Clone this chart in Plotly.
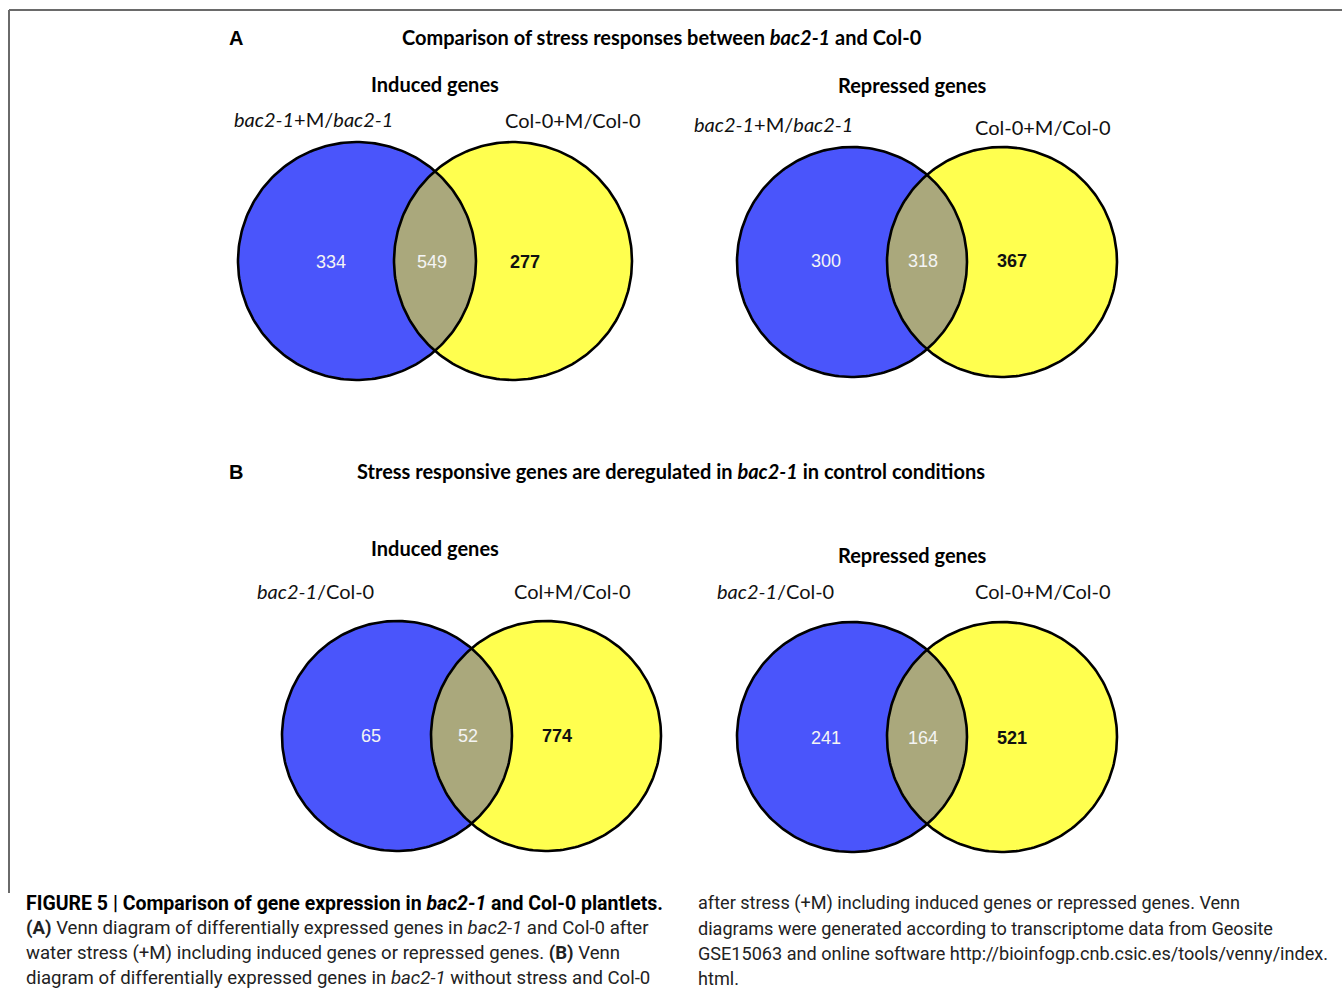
import numpy as np
import plotly.graph_objects as go

# ---- data ----
panels = ["A", "B"]
panel_titles = ["Comparison of stress responses between <i>bac2-1</i> and Col-0",
                "Stress responsive genes are deregulated in <i>bac2-1</i> in control conditions"]
diagram_titles = ["Induced genes", "Repressed genes", "Induced genes", "Repressed genes"]
set_left_labels = ["<i>bac2-1</i>+M/<i>bac2-1</i>", "<i>bac2-1</i>+M/<i>bac2-1</i>",
                   "<i>bac2-1</i>/Col-0", "<i>bac2-1</i>/Col-0"]
set_right_labels = ["Col-0+M/Col-0", "Col-0+M/Col-0", "Col+M/Col-0", "Col-0+M/Col-0"]
only_left = [334, 300, 65, 241]
both = [549, 318, 52, 164]
only_right = [277, 367, 774, 521]

# ---- layout geometry (pixels) ----
W, H = 1342, 994
venn_geo = [  # (left cx, right cx, cy, r)
    (357, 513, 261, 119),
    (852, 1002, 262, 115),
    (397, 546, 736, 115),
    (852, 1002, 737, 115),
]
num_x = [(331, 432, 525), (826, 923, 1012), (371, 468, 557), (826, 923, 1012)]
num_y = [263, 262, 737, 739]
dtitle_pos = [(435, 84), (912, 85), (435, 548), (912, 555)]
left_lab_pos = [(313, 119), (773, 124), (315, 591), (775, 591)]
right_lab_pos = [(573, 120), (1043, 127), (572, 591), (1043, 591)]

BLUE = "#4a55fb"
YELLOW = "#ffff4f"
LENS = "#aaa87c"
VFONT = "Lato, Open Sans, sans-serif"

fig = go.Figure()


def circle(cx, cy, r, n=240):
    t = np.linspace(0, 2 * np.pi, n)
    return cx + r * np.cos(t), cy + r * np.sin(t)


def lens(c1, c2, cy, r, n=120):
    d = c2 - c1
    a = d / 2.0
    h = np.sqrt(r * r - a * a)
    ang = np.arctan2(h, a)
    t1 = np.linspace(-ang, ang, n)
    x1 = c1 + r * np.cos(t1)
    y1 = cy + r * np.sin(t1)
    t2 = np.linspace(np.pi - ang, np.pi + ang, n)
    x2 = c2 + r * np.cos(t2)
    y2 = cy + r * np.sin(t2)
    return np.concatenate([x1, x2]), np.concatenate([y1, y2])


for i, (c1, c2, cy, r) in enumerate(venn_geo):
    x, y = circle(c1, cy, r)
    fig.add_trace(go.Scatter(x=x, y=y, fill="toself", fillcolor=BLUE, mode="lines",
                             line=dict(width=0), hoverinfo="skip", showlegend=False))
    x, y = circle(c2, cy, r)
    fig.add_trace(go.Scatter(x=x, y=y, fill="toself", fillcolor=YELLOW, mode="lines",
                             line=dict(width=0), hoverinfo="skip", showlegend=False))
    x, y = lens(c1, c2, cy, r)
    fig.add_trace(go.Scatter(x=x, y=y, fill="toself", fillcolor=LENS, mode="lines",
                             line=dict(width=0), hoverinfo="skip", showlegend=False))
    for cx in (c1, c2):
        x, y = circle(cx, cy, r)
        fig.add_trace(go.Scatter(x=x, y=y, mode="lines", line=dict(color="black", width=2.6),
                                 hoverinfo="skip", showlegend=False))
    fig.add_trace(go.Scatter(
        x=list(num_x[i]), y=[num_y[i]] * 3, mode="text",
        text=[str(only_left[i]), str(both[i]), f"<b>{only_right[i]}</b>"],
        textfont=dict(family="Liberation Sans, Arial, sans-serif", size=18,
                      color=["#f4f4f4", "#f4f4f4", "#111111"]),
        textposition="middle center", hoverinfo="skip", showlegend=False))

ann = []
for k, (lab, ttl, y, cx) in enumerate(zip(panels, panel_titles, [38, 472], [662, 671])):
    ann.append(dict(x=236, y=y, text=f"<b>{lab}</b>", xanchor="center", yanchor="middle",
                    font=dict(family="Liberation Sans, Arial, sans-serif", size=20, color="black")))
    ann.append(dict(x=cx, y=y - 1, text=f"<b>{ttl}</b>", xanchor="center", yanchor="middle",
                    font=dict(family=VFONT, size=20, color="black")))
for i in range(4):
    ann.append(dict(x=dtitle_pos[i][0], y=dtitle_pos[i][1], text=f"<b>{diagram_titles[i]}</b>",
                    xanchor="center", yanchor="middle", font=dict(family=VFONT, size=20, color="black")))
    ann.append(dict(x=left_lab_pos[i][0], y=left_lab_pos[i][1], text=set_left_labels[i],
                    xanchor="center", yanchor="middle", font=dict(family=VFONT, size=20, color="#111111")))
    ann.append(dict(x=right_lab_pos[i][0], y=right_lab_pos[i][1], text=set_right_labels[i],
                    xanchor="center", yanchor="middle", font=dict(family=VFONT, size=20, color="#111111")))

CFONT = "Roboto, Liberation Sans, Arial, sans-serif"
caption_left = [
    "<b>FIGURE 5 | Comparison of gene expression in <i>bac2-1</i> and Col-0 plantlets.</b>",
    "<b>(A)</b> Venn diagram of differentially expressed genes in <i>bac2-1</i> and Col-0 after",
    "water stress (+M) including induced genes or repressed genes. <b>(B)</b> Venn",
    "diagram of differentially expressed genes in <i>bac2-1</i> without stress and Col-0",
]
caption_right = [
    "after stress (+M) including induced genes or repressed genes. Venn",
    "diagrams were generated according to transcriptome data from Geosite",
    "GSE15063 and online software http://bioinfogp.cnb.csic.es/tools/venny/index.",
    "html.",
]
cap_y = [903, 928, 953, 978]
for j, t in enumerate(caption_left):
    ann.append(dict(x=24, y=cap_y[j], text=t, xanchor="left", yanchor="middle",
                    font=dict(family=CFONT, size=19.5 if j == 0 else 18.6,
                              color="black" if j == 0 else "#222222")))
for j, t in enumerate(caption_right):
    ann.append(dict(x=696, y=cap_y[j], text=t, xanchor="left", yanchor="middle",
                    font=dict(family=CFONT, size=18.1, color="#222222")))

for a in ann:
    a.update(xref="x", yref="y", showarrow=False)

shapes = [
    dict(type="line", xref="x", yref="y", x0=9, x1=W, y0=10, y1=10, line=dict(color="#6a6a6a", width=2)),
    dict(type="line", xref="x", yref="y", x0=9, x1=9, y0=10, y1=893, line=dict(color="#6a6a6a", width=2)),
]

fig.update_layout(
    width=W, height=H, margin=dict(l=0, r=0, t=0, b=0),
    paper_bgcolor="white", plot_bgcolor="white",
    xaxis=dict(range=[0, W], visible=False, fixedrange=True),
    yaxis=dict(range=[H, 0], visible=False, fixedrange=True),
    annotations=ann, shapes=shapes, showlegend=False,
)
fig.write_html("out.html", config={"displayModeBar": False},
               post_script="document.body.style.margin='0px';document.body.style.overflow='hidden';")
